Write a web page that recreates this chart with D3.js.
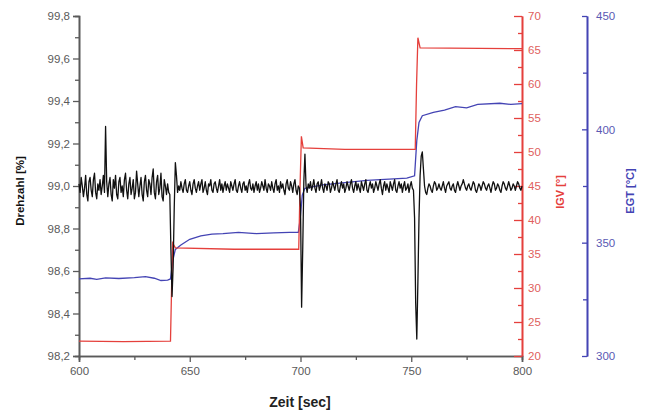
<!DOCTYPE html>
<html>
<head>
<meta charset="utf-8">
<script src="https://cdn.jsdelivr.net/npm/d3@7"></script>
<style>
    body { margin: 0; background: #fff; }
    svg { display: block; font-family: "Liberation Sans", Arial, sans-serif; }
</style>
</head>
<body>
<div id="chart"></div>
<script>
(function () {
    "use strict";

    // Drehzahl [%], one value every 0.5 s from 600 s to 800 s
    const drehzahlStart = 600;
    const drehzahlStep = 0.5;
    const drehzahl = [
        99.01, 98.97, 99.04, 99.00, 98.95, 98.99, 99.05, 98.96, 98.93, 99.02,
        99.04, 98.98, 98.95, 99.03, 99.06, 98.97, 98.94, 99.01, 98.98, 99.03,
        98.96, 99.00, 99.05, 98.97, 99.28, 99.02, 98.95, 99.01, 99.04, 98.96,
        98.93, 99.03, 98.99, 99.05, 98.96, 98.94, 99.02, 99.04, 98.97, 99.00,
        98.95, 99.03, 99.06, 98.98, 98.94, 99.01, 99.04, 98.96, 98.99, 99.03,
        98.94, 98.97, 99.07, 99.01, 98.95, 99.00, 99.04, 98.96, 98.93, 99.02,
        99.05, 98.98, 98.95, 99.03, 99.01, 98.96, 99.04, 99.08, 98.97, 98.94,
        99.02, 99.05, 98.96, 98.99, 99.06, 98.95, 98.93, 99.03, 99.00, 98.96,
        99.01, 98.97, 98.96,
        98.70, 98.48, 98.62, 98.90, 99.11, 99.05, 98.97,
        99.00, 98.98, 99.02, 98.99, 98.97, 99.01, 99.03, 98.98, 98.97, 99.00,
        99.02, 98.98, 98.96, 99.01, 99.03, 98.99, 98.97, 99.00, 99.02, 98.98,
        99.01, 99.03, 98.97, 98.99, 99.02, 98.98, 98.96, 99.01, 99.00, 99.03,
        98.98, 98.97, 99.01, 99.02, 98.99, 98.97, 99.00, 99.03, 98.98, 99.01,
        98.97, 99.00, 99.02, 98.98, 99.01, 98.99, 98.97, 99.02, 99.00, 98.98,
        99.01, 99.03, 98.98, 98.97, 99.00, 99.02, 98.99, 98.97, 99.01, 99.02,
        98.98, 99.00, 98.97, 99.01, 99.03, 98.99, 98.98, 99.01, 98.97, 99.00,
        99.02, 98.98, 99.01, 98.97, 98.99, 99.02, 99.00, 98.98, 99.03, 98.99,
        98.97, 99.01, 99.00, 98.98, 99.02, 98.99, 98.97, 99.01, 99.03, 98.98,
        99.00, 98.97, 99.02, 98.99, 99.01, 98.98, 98.96, 99.01, 99.03, 98.99,
        98.98, 99.02, 99.00, 98.97, 99.01, 99.03, 98.98, 98.96, 99.00, 98.99,
        98.90, 98.43, 98.70, 99.02, 99.15, 99.00, 98.97, 99.01, 98.99, 99.02,
        98.98, 99.00, 99.03, 98.99, 98.97, 99.01, 99.02, 98.98, 99.00, 99.03,
        98.99, 98.97, 99.01, 99.00, 98.98, 99.02, 99.01, 98.97, 98.99, 99.02,
        99.00, 98.98, 99.01, 99.03, 98.98, 98.97, 99.00, 99.02, 98.99, 99.01,
        98.97, 98.99, 99.02, 99.00, 98.98, 99.01, 99.03, 98.99, 98.97, 99.00,
        99.02, 98.98, 99.01, 98.99, 98.97, 99.02, 99.00, 98.98, 99.01, 99.03,
        98.98, 98.97, 99.00, 99.02, 98.99, 99.01, 98.97, 98.99, 99.02, 99.00,
        98.98, 99.01, 99.03, 98.99, 98.96, 99.00, 99.02, 98.98, 99.01, 98.99,
        98.97, 99.02, 99.00, 98.98, 99.01, 99.03, 98.98, 98.97, 99.00, 99.02,
        98.99, 99.01, 98.97, 99.00, 99.02, 98.98, 98.99, 99.01, 98.97, 99.00,
        99.02, 98.99, 98.98, 98.85,
        98.45, 98.28, 98.55, 98.85, 99.05, 99.14, 99.16, 99.08, 99.00, 98.97,
        98.96, 98.99, 99.01, 99.00, 98.98, 98.97, 99.00, 99.02, 99.01, 98.98,
        98.99, 99.01, 98.99, 98.98, 99.00, 99.02, 98.99, 98.97, 99.00, 99.01,
        99.02, 98.99, 98.98, 99.00, 99.01, 98.98, 98.97, 99.00, 99.02, 99.00,
        98.98, 99.00, 99.01, 99.03, 99.01, 98.99, 98.98, 99.00, 99.01, 98.99,
        98.98, 99.00, 99.02, 99.01, 98.98, 98.97, 98.99, 99.01, 99.00, 98.98,
        99.00, 99.02, 99.01, 98.99, 98.98, 99.00, 99.01, 98.99, 98.97, 99.00,
        99.02, 99.01, 98.98, 98.99, 99.01, 99.00, 98.98, 98.97, 99.00, 99.02,
        99.01, 98.99, 98.98, 99.00, 99.02, 99.00, 98.98, 98.99, 99.01, 99.00,
        98.98, 99.00, 99.02, 99.01, 98.99, 98.98, 99.00
    ];

    // IGV [°] as [time, value]
    const igv = [
        [600, 22.2], [620, 22.1], [641.3, 22.2], [641.8, 30], [642.3, 36.6],
        [643.5, 35.9], [670, 35.7], [699.2, 35.7], [699.8, 45], [700.4, 52.3],
        [701.2, 50.6], [720, 50.4], [751.8, 50.4], [752.4, 60], [753, 66.8],
        [754, 65.3], [800, 65.2]
    ];

    // EGT [°C] as [time, value]
    const egt = [
        [600, 334], [605, 334.3], [608, 333.8], [612, 334.5], [618, 334.2],
        [625, 334.6], [630, 335], [634, 334.3], [637, 333.3], [640, 333.5],
        [641.3, 334], [642.3, 342], [643.5, 347], [646, 349], [650, 351.5],
        [655, 353], [660, 353.8], [665, 354], [672, 354.5], [680, 354],
        [688, 354.3], [695, 354.5], [699, 354.5], [699.8, 360], [700.8, 371],
        [702, 374], [710, 375.5], [720, 376.5], [730, 377.5], [740, 378],
        [748, 378.5], [751.5, 379.5], [752.5, 395], [753.5, 403], [755, 406],
        [760, 407.5], [765, 408.5], [770, 410], [775, 409.5], [780, 411],
        [790, 411.5], [795, 411], [800, 411.3]
    ];

    const timeTicks = [600, 650, 700, 750, 800];
    const timeMinor = [625, 675, 725, 775];
    const drehzahlTicks = [98.2, 98.4, 98.6, 98.8, 99.0, 99.2, 99.4, 99.6, 99.8];
    const drehzahlMinor = [98.3, 98.5, 98.7, 98.9, 99.1, 99.3, 99.5, 99.7];
    const igvTicks = [20, 25, 30, 35, 40, 45, 50, 55, 60, 65, 70];
    const igvMinor = [22.5, 27.5, 32.5, 37.5, 42.5, 47.5, 52.5, 57.5, 62.5, 67.5];
    const egtTicks = [300, 350, 400, 450];
    const egtMinor = [325, 375, 425];

    const width = 649;
    const height = 413;
    const left = 79, right = 522, top = 16, bottom = 356;
    const egtX = 587;

    const gray = "#5a5a5a";
    const red = "#e5403c";
    const redText = "#e0605c";
    const blue = "#4444b4";
    const blueText = "#5a5ab4";

    const de = d3.formatLocale({ decimal: ",", thousands: ".", grouping: [3], currency: ["", "€"] });

    const xScale = d3.scaleLinear().domain([600, 800]).range([left, right]);
    const yDreh = d3.scaleLinear().domain([98.2, 99.8]).range([bottom, top]);
    const yIgv = d3.scaleLinear().domain([20, 70]).range([bottom, top]);
    const yEgt = d3.scaleLinear().domain([300, 450]).range([bottom, top]);

    const svg = d3.select("#chart").append("svg")
        .attr("width", width)
        .attr("height", height);

    function styleAxis(g, color, textColor) {
        g.selectAll("path, line").attr("stroke", color).attr("stroke-width", 1.3);
        g.selectAll("text").attr("fill", textColor).attr("font-size", 11.5);
        g.select(".domain").attr("stroke-width", 1.6);
    }

    // minor ticks first
    svg.append("g")
        .attr("transform", `translate(0,${bottom})`)
        .call(d3.axisBottom(xScale).tickValues(timeMinor).tickSize(4).tickFormat(""))
        .call(g => styleAxis(g, gray, gray));
    svg.append("g")
        .attr("transform", `translate(${left},0)`)
        .call(d3.axisLeft(yDreh).tickValues(drehzahlMinor).tickSize(4).tickFormat(""))
        .call(g => styleAxis(g, gray, gray));
    svg.append("g")
        .attr("transform", `translate(${right},0)`)
        .call(d3.axisRight(yIgv).tickValues(igvMinor).tickSizeInner(-4).tickSizeOuter(0).tickFormat(""))
        .call(g => styleAxis(g, red, redText));
    svg.append("g")
        .attr("transform", `translate(${egtX},0)`)
        .call(d3.axisRight(yEgt).tickValues(egtMinor).tickSizeInner(-4).tickSizeOuter(0).tickFormat(""))
        .call(g => styleAxis(g, blue, blueText));

    // major axes
    svg.append("g")
        .attr("transform", `translate(0,${bottom})`)
        .call(d3.axisBottom(xScale).tickValues(timeTicks).tickSize(6).tickPadding(5))
        .call(g => styleAxis(g, gray, gray));
    svg.append("g")
        .attr("transform", `translate(${left},0)`)
        .call(d3.axisLeft(yDreh).tickValues(drehzahlTicks).tickSize(6).tickPadding(3)
            .tickFormat(de.format(".1f")))
        .call(g => styleAxis(g, gray, gray));
    svg.append("g")
        .attr("transform", `translate(${right},0)`)
        .call(d3.axisRight(yIgv).tickValues(igvTicks).tickSizeInner(-8).tickSizeOuter(0).tickPadding(6))
        .call(g => styleAxis(g, red, redText));
    svg.append("g")
        .attr("transform", `translate(${egtX},0)`)
        .call(d3.axisRight(yEgt).tickValues(egtTicks).tickSizeInner(-5).tickSizeOuter(0).tickPadding(9))
        .call(g => styleAxis(g, blue, blueText));

    // lines
    svg.append("path")
        .datum(egt)
        .attr("fill", "none")
        .attr("stroke", blue)
        .attr("stroke-width", 1.3)
        .attr("d", d3.line().x(d => xScale(d[0])).y(d => yEgt(d[1])));

    svg.append("path")
        .datum(igv)
        .attr("fill", "none")
        .attr("stroke", red)
        .attr("stroke-width", 1.3)
        .attr("d", d3.line().x(d => xScale(d[0])).y(d => yIgv(d[1])));

    svg.append("path")
        .datum(drehzahl)
        .attr("fill", "none")
        .attr("stroke", "#111")
        .attr("stroke-width", 1.3)
        .attr("stroke-linejoin", "round")
        .attr("d", d3.line()
            .x((d, i) => xScale(drehzahlStart + i * drehzahlStep))
            .y(d => yDreh(d)));

    // titles
    svg.append("text")
        .attr("x", 300).attr("y", 407)
        .attr("text-anchor", "middle")
        .attr("font-size", 14).attr("font-weight", "bold")
        .attr("fill", "#222")
        .text("Zeit [sec]");

    svg.append("text")
        .attr("transform", "translate(24,191) rotate(-90)")
        .attr("text-anchor", "middle")
        .attr("font-size", 11.5).attr("font-weight", "bold")
        .attr("fill", "#111")
        .text("Drehzahl [%]");

    svg.append("text")
        .attr("transform", "translate(564,192) rotate(-90)")
        .attr("text-anchor", "middle")
        .attr("font-size", 11).attr("font-weight", "bold")
        .attr("fill", red)
        .text("IGV [°]");

    svg.append("text")
        .attr("transform", "translate(634,191) rotate(-90)")
        .attr("text-anchor", "middle")
        .attr("font-size", 11).attr("font-weight", "bold")
        .attr("fill", blue)
        .text("EGT [°C]");
}());
</script>
</body>
</html>
